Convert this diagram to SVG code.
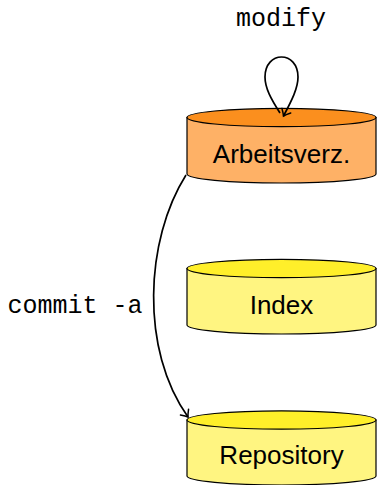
<svg xmlns="http://www.w3.org/2000/svg" width="378" height="485" viewBox="0 0 378 485">
<style>
.body{stroke:#000;stroke-width:1.2}
.orb{fill:#FEB166}.ort{fill:#FB8F1E}
.yb{fill:#FFF581}.yt{fill:#FFEF2A}
.lbl{font-family:"Liberation Sans","DejaVu Sans",sans-serif;font-size:26px;fill:#000;text-anchor:middle}
.tt{font-family:"Liberation Mono","DejaVu Sans Mono",monospace;font-size:25px;fill:#000;text-anchor:middle}
.edge{fill:none;stroke:#000;stroke-width:1.7}
</style>
<defs>
<marker id="arr" markerUnits="userSpaceOnUse" markerWidth="14" markerHeight="14" refX="0" refY="0" viewBox="-8 -7 10 14" orient="auto" overflow="visible">
<path d="M -6 -5 Q -2 -1.2 0 0 Q -2 1.2 -6 5" fill="none" stroke="#000" stroke-width="1.5" stroke-linecap="round"/>
</marker>
</defs>
<g id="arbeitsverz">
<path class="body orb" d="M 187 117.5 L 187 174 A 94.5 9 0 0 0 376 174 L 376 117.5 Z"/>
<ellipse class="body ort" cx="281.5" cy="117.5" rx="94.5" ry="9.2"/>
<text class="lbl" x="281.5" y="163">Arbeitsverz.</text>
</g>
<g id="index">
<path class="body yb" d="M 187 268.5 L 187 325 A 94.5 9 0 0 0 376 325 L 376 268.5 Z"/>
<ellipse class="body yt" cx="281.5" cy="268.5" rx="94.5" ry="9.2"/>
<text class="lbl" x="281.5" y="314">Index</text>
</g>
<g id="repository">
<path class="body yb" d="M 187 420 L 187 476 A 94.5 9 0 0 0 376 476 L 376 420 Z"/>
<ellipse class="body yt" cx="281.5" cy="420" rx="94.5" ry="9.2"/>
<text class="lbl" x="281.5" y="464">Repository</text>
</g>
<g id="connectors">
<path class="edge" marker-end="url(#arr)" d="M 280 113 C 271 99, 265 88, 265 77 C 265 64, 273 57, 281.5 57 C 290 57, 298 64, 298 77 C 298 88, 292 100, 283.5 116"/>
<path class="edge" marker-end="url(#arr)" d="M 186 175 C 145 240, 140 350, 188 417"/>
<text class="tt" x="281" y="26">modify</text>
<text class="tt" x="75" y="313">commit -a</text>
</g>
</svg>
